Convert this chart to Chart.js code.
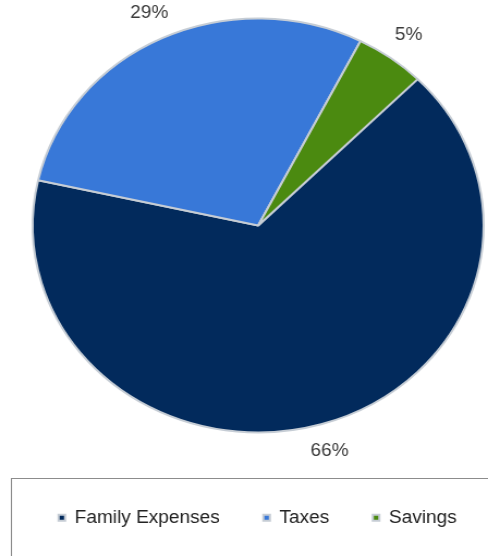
<!DOCTYPE html>
<html>
<head>
<meta charset="utf-8">
<script src="https://cdn.jsdelivr.net/npm/chart.js@4.4.1/dist/chart.umd.min.js"></script>
<style>
  html, body { margin: 0; padding: 0; background: #ffffff; overflow: hidden; }
  #wrap { width: 448px; height: 556px; transform: scaleX(1.0893); transform-origin: 0 0; }
</style>
</head>
<body>
<div id="wrap"><canvas id="c"></canvas></div>
<script>
const categories = ['Family Expenses', 'Taxes', 'Savings'];
const values = [66, 29, 5];
const colors = ['#022a5c', '#3878d8', '#4b8a10'];

const legendBoxPlugin = {
  id: 'legendBox',
  beforeDraw(chart) {
    const ctx = chart.ctx;
    ctx.save();
    ctx.fillStyle = '#ffffff';
    ctx.fillRect(0, 0, chart.width, chart.height);
    ctx.strokeStyle = '#8c8c8c';
    ctx.lineWidth = 1;
    ctx.strokeRect(10.5, 478.5, 500, 120);
    ctx.restore();
  }
};

// shift the plot area so the pie sits where the reference has it
const areaShift = {
  id: 'areaShift',
  afterLayout(chart) {
    const ca = chart.chartArea;
    ca.left = 26;
    ca.right = 448;
    ca.top = -18;
    ca.width = ca.right - ca.left;
    ca.height = ca.bottom - ca.top;
  }
};

const pctLabels = {
  id: 'pctLabels',
  afterDatasetsDraw(chart) {
    const ctx = chart.ctx;
    const meta = chart.getDatasetMeta(0);
    const data = chart.data.datasets[0].data;
    const total = data.reduce((a, b) => a + b, 0);
    ctx.save();
    ctx.font = '17.5px "Liberation Sans", Arial, sans-serif';
    ctx.fillStyle = '#3a3a3a';
    ctx.textAlign = 'center';
    ctx.textBaseline = 'middle';
    meta.data.forEach((arc, i) => {
      const p = arc.getProps(['x', 'y', 'startAngle', 'endAngle', 'outerRadius'], true);
      const mid = (p.startAngle + p.endAngle) / 2;
      const r = p.outerRadius + 28;
      ctx.fillText(Math.round(data[i] / total * 100) + '%', p.x + Math.cos(mid) * r, p.y + Math.sin(mid) * r);
    });
    ctx.restore();
  }
};

new Chart(document.getElementById('c'), {
  type: 'pie',
  data: {
    labels: categories,
    datasets: [{
      data: values,
      backgroundColor: colors,
      borderColor: '#c6cdd5',
      borderWidth: 2
    }]
  },
  options: {
    responsive: true,
    maintainAspectRatio: false,
    animation: false,
    rotation: 45,
    radius: 207,
    layout: { padding: { left: 0, right: -25, top: 0, bottom: 19.5 } },
    plugins: {
      legend: {
        position: 'bottom',
        labels: {
          boxWidth: 6,
          boxHeight: 6,
          padding: 40,
          color: '#222222',
          font: { family: '"Liberation Sans", Arial, sans-serif', size: 17.5 }
        }
      },
      tooltip: { enabled: false }
    }
  },
  plugins: [legendBoxPlugin, areaShift, pctLabels]
});
</script>
</body>
</html>
